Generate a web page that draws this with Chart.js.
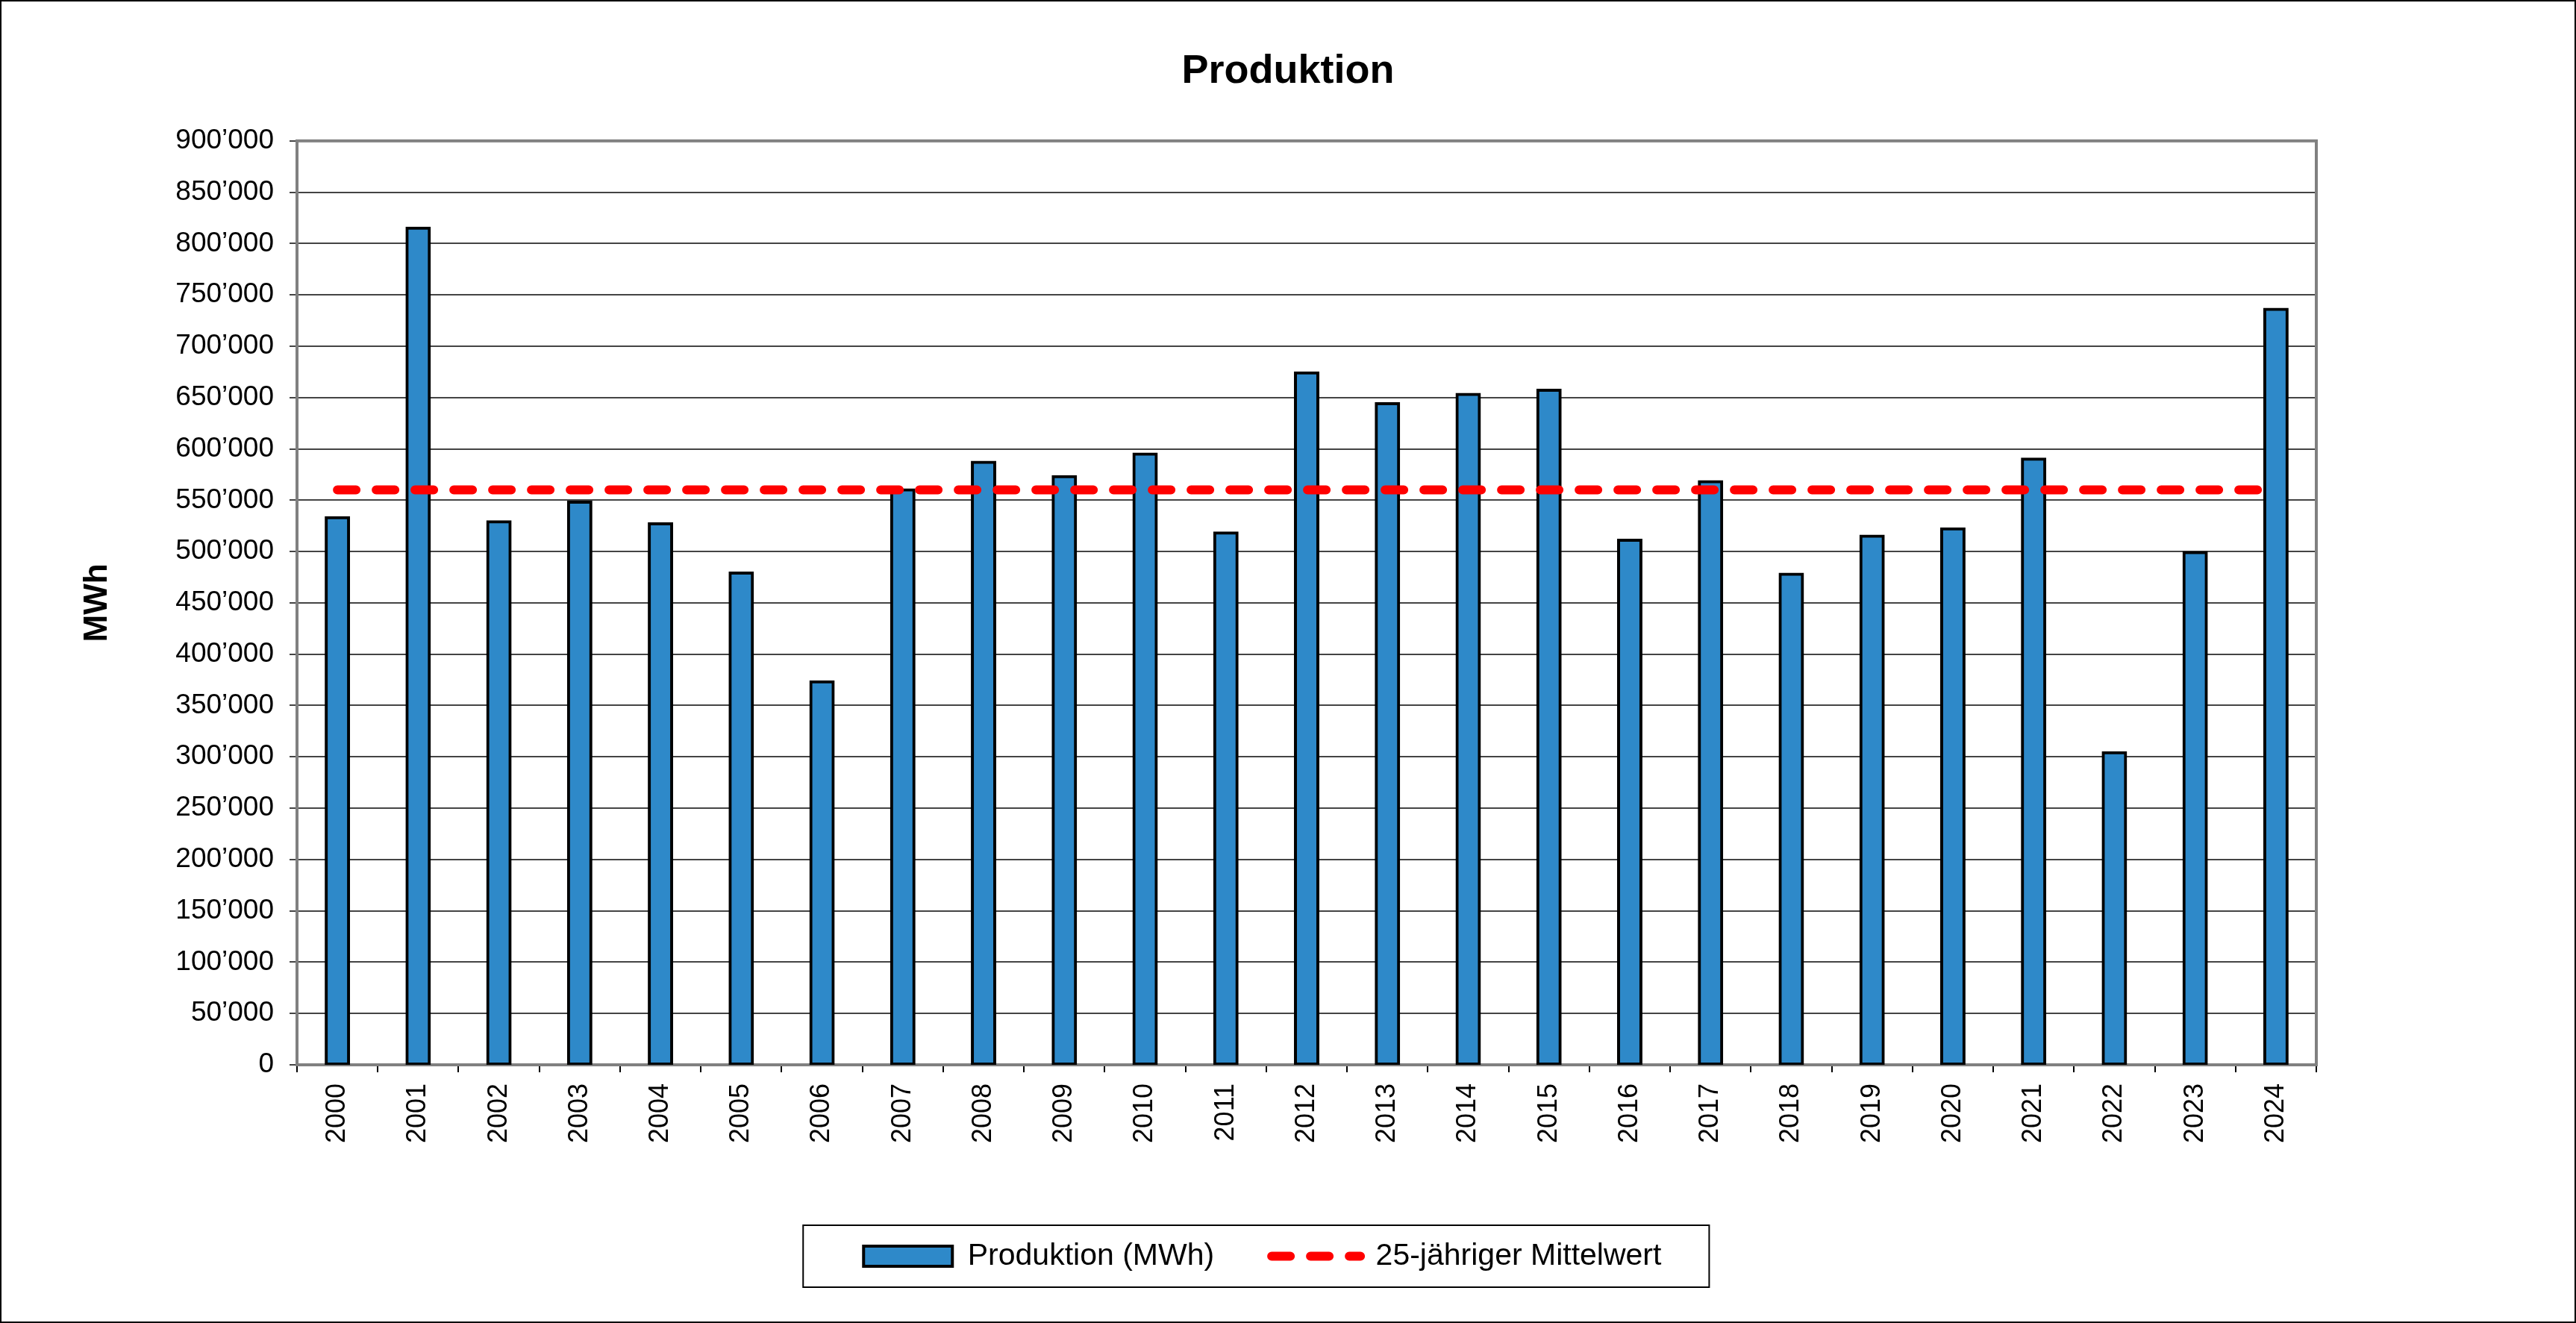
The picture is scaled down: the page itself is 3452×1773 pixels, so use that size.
<!DOCTYPE html>
<html>
<head>
<meta charset="utf-8">
<script src="https://cdn.jsdelivr.net/npm/chart.js@4.4.1/dist/chart.umd.min.js"></script>
<style>
  html, body { margin: 0; padding: 0; background: #fff; overflow: hidden; }
  canvas { display: block; }
</style>
</head>
<body>
<canvas id="chartProduktion" width="3452" height="1773"></canvas>
<script>
const jahre = ['2000', '2001', '2002', '2003', '2004', '2005', '2006', '2007', '2008', '2009',
    '2010', '2011', '2012', '2013', '2014', '2015', '2016', '2017', '2018', '2019',
    '2020', '2021', '2022', '2023', '2024']
const produktion = [533000, 815000, 529000, 548000, 527000, 479000, 373000, 560000, 587000, 573000,
    595000, 518000, 674000, 644000, 653000, 657000, 511000, 568000, 478000, 515000,
    522000, 590000, 304000, 499000, 736000]
const mittelwert = [560000, 560000, 560000, 560000, 560000, 560000, 560000, 560000, 560000, 560000,
    560000, 560000, 560000, 560000, 560000, 560000, 560000, 560000, 560000, 560000,
    560000, 560000, 560000, 560000, 560000]
const yMin = 0
const yMax = 900000
const yStep = 50000

const blau = 'rgb(46, 137, 201)'
const rot = '#ff0000'

// 900000 -> 900’000
function formatZahl(wert) {
    return String(wert).replace(/\B(?=(\d{3})+(?!\d))/g, '\u2019')
}

Chart.defaults.font.family = "'Liberation Sans', Arial, sans-serif"
Chart.defaults.color = '#000'

// Legende etwas nach links schieben (wie im Original)
const legendeAbstand = '\u00a0\u00a0\u00a0\u00a0\u00a0\u00a0'

// grauer Rahmen um die Grafik, schwarzer Rahmen aussen und um die Legende
const rahmen = {
    id: 'rahmen',
    beforeDatasetsDraw(chart) {
        const { ctx, chartArea } = chart
        ctx.save()
        ctx.strokeStyle = '#808080'
        ctx.lineWidth = 4
        ctx.strokeRect(chartArea.left, chartArea.top, chartArea.right - chartArea.left, chartArea.bottom - chartArea.top)
        ctx.restore()
    },
    afterDraw(chart) {
        const ctx = chart.ctx
        ctx.save()
        ctx.strokeStyle = '#000'
        ctx.lineWidth = 2
        ctx.strokeRect(1, 1, chart.width - 2, chart.height - 2)
        const boxes = chart.legend.legendHitBoxes
        if (boxes && boxes.length) {
            ctx.font = "41px 'Liberation Sans', Arial, sans-serif"
            const leer = ctx.measureText(legendeAbstand).width
            const erste = boxes[0]
            const letzte = boxes[boxes.length - 1]
            const mitte = erste.top + erste.height / 2
            const links = erste.left - 81
            const rechts = letzte.left + letzte.width - leer + 64
            ctx.strokeRect(links, mitte - 41.5, rechts - links, 83)
        }
        ctx.restore()
    }
}

const data = {
    labels: jahre,
    datasets: [{
        type: 'bar',
        label: 'Produktion (MWh)',
        data: produktion,
        backgroundColor: blau,
        borderColor: '#000',
        borderWidth: 4,
        borderSkipped: false,
        inflateAmount: 2,
        barPercentage: 0.277,
        categoryPercentage: 1,
        order: 2
    }, {
        type: 'line',
        label: '25-jähriger Mittelwert',
        data: mittelwert,
        borderColor: rot,
        backgroundColor: rot,
        borderWidth: 12,
        borderDash: [25, 27],
        borderCapStyle: 'round',
        pointRadius: 0,
        fill: false,
        order: 1
    }]
}

const config = {
    type: 'bar',
    data: data,
    options: {
        responsive: false,
        devicePixelRatio: 1,
        animation: false,
        layout: { padding: { left: 0, right: 0, top: 0, bottom: 59 } },
        plugins: {
            title: {
                display: true,
                text: 'Produktion',
                color: '#000',
                font: { size: 54, weight: 'bold' },
                padding: { top: 64, bottom: 60 }
            },
            legend: {
                position: 'bottom',
                labels: {
                    usePointStyle: true,
                    pointStyleWidth: 119,
                    boxWidth: 119,
                    boxHeight: 27,
                    padding: 77,
                    color: '#000',
                    font: { size: 41 },
                    sort: (a, b) => a.datasetIndex - b.datasetIndex,
                    generateLabels(chart) {
                        const items = Chart.defaults.plugins.legend.labels.generateLabels(chart)
                        items.forEach((item) => {
                            if (item.datasetIndex === 0) {
                                item.pointStyle = 'rect'
                                item.fillStyle = blau
                                item.strokeStyle = '#000'
                                item.lineWidth = 4
                                item.lineDash = []
                            } else {
                                item.pointStyle = 'line'
                                item.strokeStyle = rot
                                item.lineWidth = 12
                                item.lineDash = [25, 27]
                                item.lineCap = 'round'
                                item.text = item.text + legendeAbstand
                            }
                        })
                        return items
                    }
                }
            },
            tooltip: { enabled: false }
        },
        scales: {
            x: {
                grid: { offset: true, drawOnChartArea: false, drawTicks: true, tickLength: 10, color: '#000', lineWidth: 2 },
                border: { display: false },
                ticks: { minRotation: 90, maxRotation: 90, autoSkip: false, padding: 15, color: '#000', font: { size: 36 } },
                afterFit(scale) { scale.height = 159 }
            },
            y: {
                min: yMin,
                max: yMax,
                ticks: { stepSize: yStep, padding: 21, color: '#000', font: { size: 37 }, callback: (v) => formatZahl(v) },
                grid: { color: '#444', lineWidth: 2, tickLength: 10 },
                border: { display: false },
                title: {
                    display: true,
                    text: 'MWh',
                    color: '#000',
                    font: { size: 44, weight: 'bold' },
                    padding: { top: 104, bottom: 0 }
                },
                afterFit(scale) { scale.width = 398 }
            },
            rechts: {
                type: 'linear',
                position: 'right',
                display: true,
                grid: { display: false },
                ticks: { display: false },
                border: { display: false },
                afterFit(scale) { scale.width = 348 }
            }
        }
    },
    plugins: [rahmen]
}

const ctx = document.getElementById('chartProduktion')
new Chart(ctx, config)
</script>
</body>
</html>
